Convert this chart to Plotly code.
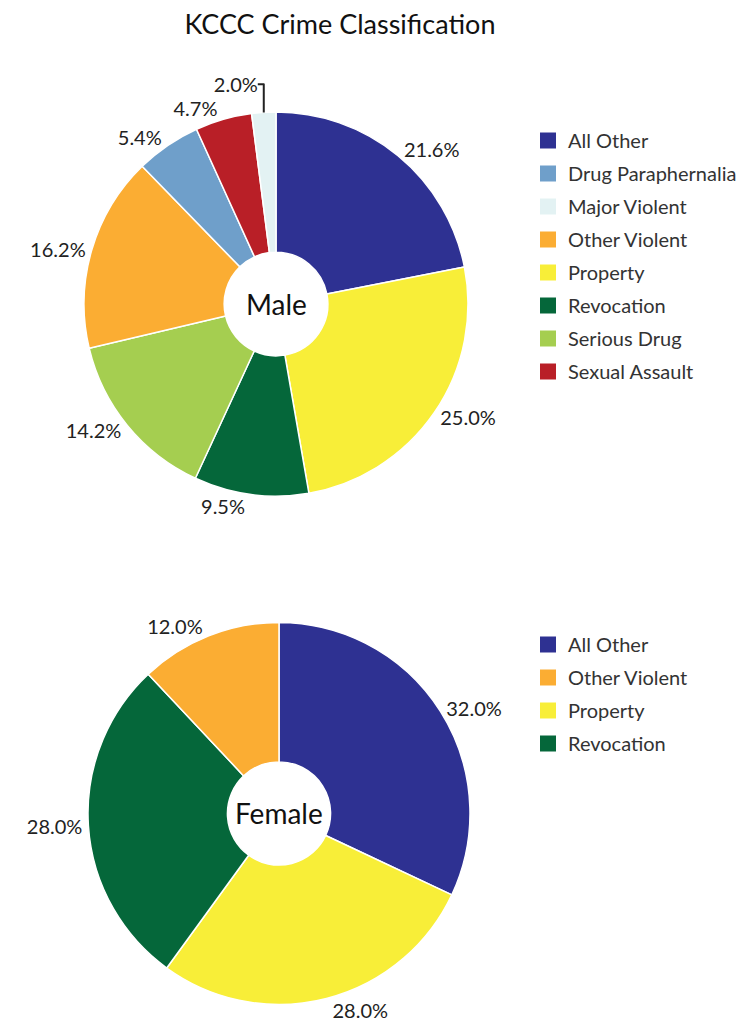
import plotly.graph_objects as go

FONT = "Lato"

colors = {
    "All Other": "#2E3192",
    "Drug Paraphernalia": "#6F9FCA",
    "Major Violent": "#E3F2F3",
    "Other Violent": "#FBAD33",
    "Property": "#F8EE38",
    "Revocation": "#05673A",
    "Serious Drug": "#A5CE50",
    "Sexual Assault": "#B91F27",
}

# slice order, clockwise from 12 o'clock
male_labels = ["All Other", "Property", "Revocation", "Serious Drug",
               "Other Violent", "Drug Paraphernalia", "Sexual Assault", "Major Violent"]
male_values = [21.6, 25.0, 9.5, 14.2, 16.2, 5.4, 4.7, 2.0]

female_labels = ["All Other", "Property", "Revocation", "Other Violent"]
female_values = [32.0, 28.0, 28.0, 12.0]

W, H = 744, 1031
OFF = 8  # page body margin


def px(x, y):
    return (x - OFF) / W, 1 - (y - OFF) / H


def px_dom(x0, x1, y0, y1):
    a, b = px(x0, y1)
    c, d = px(x1, y0)
    return dict(x=[a, c], y=[b, d])


def pie(labels, values, domain):
    return go.Pie(
        labels=labels,
        values=values,
        text=[f"{v:.1f}%" for v in values],
        textinfo="text",
        textposition="outside",
        textfont=dict(family=FONT, size=20, color="#222"),
        marker=dict(colors=[colors[l] for l in labels], line=dict(color="white", width=1.5)),
        sort=False,
        direction="clockwise",
        rotation=0,
        hole=0.27,
        domain=domain,
        showlegend=False,
        hoverinfo="label+text",
    )


fig = go.Figure()
fig.add_trace(pie(male_labels, male_values, px_dom(84, 468, 112, 496)))
fig.add_trace(pie(female_labels, female_values, px_dom(88, 470, 622, 1005)))

# legends (alphabetical, independent of slice order)
for leg, labels in (("legend", sorted(male_labels)), ("legend2", sorted(female_labels))):
    for i, lab in enumerate(labels):
        fig.add_trace(go.Scatter(
            x=[None], y=[None], mode="markers", name=lab,
            marker=dict(symbol="square", size=17, color=colors[lab]),
            legend=leg, legendgroup=f"{leg}{i}", showlegend=True,
        ))

legend_style = dict(
    font=dict(family=FONT, size=20, color="#333"),
    tracegroupgap=4,
    bgcolor="rgba(0,0,0,0)",
    xanchor="left",
    yanchor="top",
    itemclick=False,
)

lx, ly1 = px(528, 121)
_, ly2 = px(528, 625)
tx, ty = px(340, 25)
mx, my = px(276, 304)
fx, fy = px(279, 813)

center_text = dict(xref="paper", yref="paper", xanchor="center", yanchor="middle",
                   showarrow=False, font=dict(family=FONT, size=28, color="#111"))

fig.update_layout(
    width=W,
    height=H,
    margin=dict(l=0, r=0, t=0, b=0),
    paper_bgcolor="white",
    plot_bgcolor="white",
    title=dict(text="KCCC Crime Classification", x=tx, xanchor="center",
               y=ty, yanchor="middle",
               font=dict(family=FONT, size=27, color="#111")),
    xaxis=dict(visible=False),
    yaxis=dict(visible=False),
    legend=dict(x=lx, y=ly1, **legend_style),
    legend2=dict(x=lx, y=ly2, **legend_style),
    annotations=[
        dict(text="Male", x=mx, y=my, **center_text),
        dict(text="Female", x=fx, y=fy, **center_text),
    ],
)

fig.write_html("out.html")
